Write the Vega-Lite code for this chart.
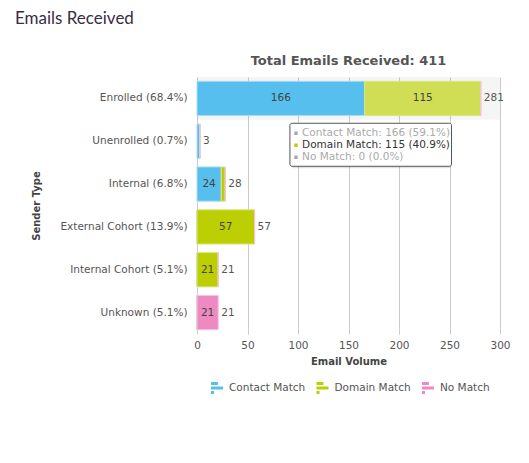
{
  "$schema": "https://vega.github.io/schema/vega-lite/v6.json",
  "padding": {"left": 14, "top": 10, "right": 5, "bottom": 5},
  "title": {"text": "Emails Received", "anchor": "start", "font": "Lato", "fontSize": 17, "fontWeight": "normal", "color": "#3a2c46", "dx": -17, "offset": 27},
  "datasets": {
    "bars": [
      {"sender": "Enrolled (68.4%)", "series": "Contact Match", "count": 166},
      {"sender": "Enrolled (68.4%)", "series": "Domain Match", "count": 115},
      {"sender": "Enrolled (68.4%)", "series": "No Match", "count": 0},
      {"sender": "Unenrolled (0.7%)", "series": "Contact Match", "count": 3},
      {"sender": "Unenrolled (0.7%)", "series": "Domain Match", "count": 0},
      {"sender": "Unenrolled (0.7%)", "series": "No Match", "count": 0},
      {"sender": "Internal (6.8%)", "series": "Contact Match", "count": 24},
      {"sender": "Internal (6.8%)", "series": "Domain Match", "count": 4},
      {"sender": "Internal (6.8%)", "series": "No Match", "count": 0},
      {"sender": "External Cohort (13.9%)", "series": "Contact Match", "count": 0},
      {"sender": "External Cohort (13.9%)", "series": "Domain Match", "count": 57},
      {"sender": "External Cohort (13.9%)", "series": "No Match", "count": 0},
      {"sender": "Internal Cohort (5.1%)", "series": "Contact Match", "count": 0},
      {"sender": "Internal Cohort (5.1%)", "series": "Domain Match", "count": 21},
      {"sender": "Internal Cohort (5.1%)", "series": "No Match", "count": 0},
      {"sender": "Unknown (5.1%)", "series": "Contact Match", "count": 0},
      {"sender": "Unknown (5.1%)", "series": "Domain Match", "count": 0},
      {"sender": "Unknown (5.1%)", "series": "No Match", "count": 21}
    ],
    "hover": [{"sender": "Enrolled (68.4%)"}],
    "tip": [
      {"sender": "Unenrolled (0.7%)", "series": "Contact Match", "label": "Contact Match: 166 (59.1%)"},
      {"sender": "Unenrolled (0.7%)", "series": "Domain Match", "label": "Domain Match: 115 (40.9%)"},
      {"sender": "Unenrolled (0.7%)", "series": "No Match", "label": "No Match: 0 (0.0%)"}
    ]
  },
  "vconcat": [
    {
      "width": 303,
      "height": 257,
      "title": {"text": "Total Emails Received: 411", "font": "DejaVu Sans", "fontSize": 13, "fontWeight": "bold", "color": "#555555", "offset": 9},
      "encoding": {
        "y": {
          "field": "sender", "type": "nominal",
          "sort": ["Enrolled (68.4%)", "Unenrolled (0.7%)", "Internal (6.8%)", "External Cohort (13.9%)", "Internal Cohort (5.1%)", "Unknown (5.1%)"],
          "scale": {"paddingInner": 0.2, "paddingOuter": 0.1},
          "axis": {"title": "Sender Type", "domain": false, "ticks": false, "labelPadding": 10, "titlePadding": 18, "labelFontSize": 10.5, "labelColor": "#555555", "titleFontSize": 10, "titleColor": "#444444", "titleFontWeight": "bold"}
        }
      },
      "layer": [
        {
          "data": {"name": "hover"},
          "mark": {"type": "bar", "height": {"band": 1.25}, "color": "#000000", "opacity": 0.04},
          "encoding": {
            "x": {
              "datum": 0, "type": "quantitative",
              "scale": {"domain": [0, 300], "nice": false},
              "axis": {"title": "Email Volume", "grid": true, "gridColor": "#cccccc", "labelFlush": false, "values": [0, 50, 100, 150, 200, 250, 300], "domain": false, "ticks": false, "labelPadding": 6, "titlePadding": 6, "labelFontSize": 10.5, "labelColor": "#555555", "titleFontSize": 10, "titleColor": "#444444", "titleFontWeight": "bold"}
            },
            "x2": {"datum": 300}
          }
        },
        {
          "data": {"name": "bars"},
          "transform": [
            {"stack": "count", "groupby": ["sender"], "sort": [{"field": "series", "order": "ascending"}], "as": ["v0", "v1"]}
          ],
          "mark": {"type": "bar", "strokeWidth": 1},
          "encoding": {
            "x": {"field": "v0", "type": "quantitative", "title": "Email Volume"},
            "x2": {"field": "v1"},
            "color": {
              "condition": {"test": "datum.sender === 'Enrolled (68.4%)' && datum.series === 'Domain Match'", "value": "#d0de55"},
              "field": "series", "type": "nominal",
              "scale": {"domain": ["Contact Match", "Domain Match", "No Match"], "range": ["#56bfee", "#bccf03", "#ee89c1"]},
              "legend": {
                "orient": "none", "legendX": 14, "legendY": 305, "direction": "horizontal", "title": null,
                "symbolType": "M-1,-1H0.15V-0.5H-1Z M-1,-0.25H1V0.25H-1Z M-1,0.5H-0.5V1H-1Z",
                "symbolSize": 144, "symbolStrokeWidth": 0, "labelFontSize": 10.5, "labelColor": "#555555", "labelOffset": 6, "columnPadding": 10.5
              }
            },
            "stroke": {
              "field": "series", "type": "nominal",
              "scale": {"domain": ["Contact Match", "Domain Match", "No Match"], "range": ["#a9dcf5", "#dbe680", "#f6c3e0"]},
              "legend": null
            }
          }
        },
        {
          "data": {"name": "bars"},
          "transform": [
            {"stack": "count", "groupby": ["sender"], "sort": [{"field": "series", "order": "ascending"}], "as": ["v0", "v1"]},
            {"filter": "datum.count >= 10"},
            {"fold": ["v0", "v1"], "as": ["edge", "pos"]}
          ],
          "mark": {"type": "text", "fontSize": 10.5, "color": "#444444", "baseline": "middle"},
          "encoding": {
            "x": {"field": "pos", "aggregate": "mean", "type": "quantitative", "title": "Email Volume"},
            "text": {"field": "count", "type": "quantitative"},
            "detail": {"field": "series"}
          }
        },
        {
          "data": {"name": "bars"},
          "mark": {"type": "text", "fontSize": 10.5, "color": "#555555", "align": "left", "baseline": "middle", "dx": 3},
          "encoding": {
            "x": {"field": "count", "aggregate": "sum", "type": "quantitative", "title": "Email Volume"},
            "text": {"field": "count", "aggregate": "sum", "type": "quantitative"}
          }
        },
        {
          "data": {"name": "hover"},
          "mark": {"type": "bar", "height": 43, "yOffset": 5.5, "xOffset": 2, "color": "#000000", "opacity": 0.12, "cornerRadius": 2},
          "encoding": {
            "y": {"datum": "Unenrolled (0.7%)"},
            "x": {"datum": 92, "type": "quantitative"},
            "x2": {"datum": 252}
          }
        },
        {
          "data": {"name": "hover"},
          "mark": {"type": "bar", "height": 43, "yOffset": 3.5, "color": "#ffffff", "stroke": "#555555", "strokeWidth": 1, "cornerRadius": 2},
          "encoding": {
            "y": {"datum": "Unenrolled (0.7%)"},
            "x": {"datum": 92, "type": "quantitative"},
            "x2": {"datum": 252}
          }
        },
        {
          "data": {"name": "tip"},
          "transform": [{"filter": "datum.series === 'Contact Match'"}],
          "mark": {"type": "square", "size": 12, "opacity": 1, "color": "#aaaaaa", "yOffset": -8},
          "encoding": {"x": {"datum": 98, "type": "quantitative"}}
        },
        {
          "data": {"name": "tip"},
          "transform": [{"filter": "datum.series === 'Contact Match'"}],
          "mark": {"type": "text", "fontSize": 10.5, "color": "#aaaaaa", "align": "left", "baseline": "middle", "dy": -8},
          "encoding": {"x": {"datum": 104, "type": "quantitative"}, "text": {"field": "label"}}
        },
        {
          "data": {"name": "tip"},
          "transform": [{"filter": "datum.series === 'Domain Match'"}],
          "mark": {"type": "square", "size": 12, "opacity": 1, "color": "#bccf03", "yOffset": 4},
          "encoding": {"x": {"datum": 98, "type": "quantitative"}}
        },
        {
          "data": {"name": "tip"},
          "transform": [{"filter": "datum.series === 'Domain Match'"}],
          "mark": {"type": "text", "fontSize": 10.5, "color": "#333333", "align": "left", "baseline": "middle", "dy": 4},
          "encoding": {"x": {"datum": 104, "type": "quantitative"}, "text": {"field": "label"}}
        },
        {
          "data": {"name": "tip"},
          "transform": [{"filter": "datum.series === 'No Match'"}],
          "mark": {"type": "square", "size": 12, "opacity": 1, "color": "#aaaaaa", "yOffset": 16},
          "encoding": {"x": {"datum": 98, "type": "quantitative"}}
        },
        {
          "data": {"name": "tip"},
          "transform": [{"filter": "datum.series === 'No Match'"}],
          "mark": {"type": "text", "fontSize": 10.5, "color": "#aaaaaa", "align": "left", "baseline": "middle", "dy": 16},
          "encoding": {"x": {"datum": 104, "type": "quantitative"}, "text": {"field": "label"}}
        }
      ]
    }
  ],
  "config": {
    "font": "DejaVu Sans",
    "view": {"stroke": null},
    "axisX": {"grid": true, "gridColor": "#cccccc"}
  }
}
